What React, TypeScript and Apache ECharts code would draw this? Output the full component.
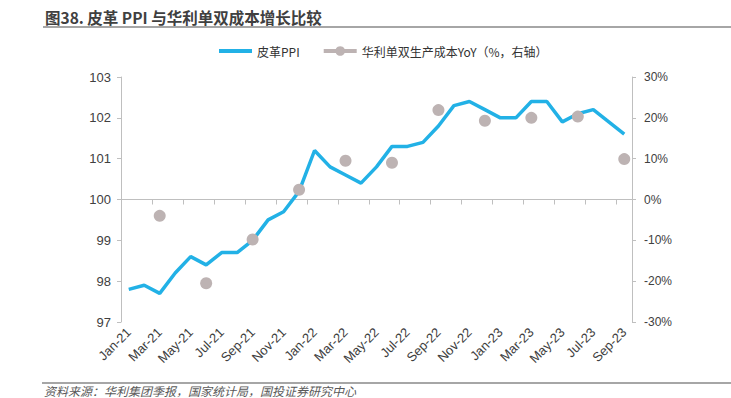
import React, { useEffect, useRef } from "react";
import * as echarts from "echarts";

const months = [
  "Jan-21", "Feb-21", "Mar-21", "Apr-21", "May-21", "Jun-21", "Jul-21", "Aug-21", "Sep-21", "Oct-21", "Nov-21", "Dec-21",
  "Jan-22", "Feb-22", "Mar-22", "Apr-22", "May-22", "Jun-22", "Jul-22", "Aug-22", "Sep-22", "Oct-22", "Nov-22", "Dec-22",
  "Jan-23", "Feb-23", "Mar-23", "Apr-23", "May-23", "Jun-23", "Jul-23", "Aug-23", "Sep-23",
];

const leatherPPI = [
  97.8, 97.9, 97.7, 98.2, 98.6, 98.4, 98.7, 98.7, 99.0, 99.5, 99.7, 100.2,
  101.2, 100.8, 100.6, 100.4, 100.8, 101.3, 101.3, 101.4, 101.8, 102.3, 102.4, 102.2,
  102.0, 102.0, 102.4, 102.4, 101.9, 102.1, 102.2, 101.9, 101.6,
];

const costMonths = ["Mar-21", "Jun-21", "Sep-21", "Dec-21", "Mar-22", "Jun-22", "Sep-22", "Dec-22", "Mar-23", "Jun-23", "Sep-23"];
const costYoY = [-4.0, -20.5, -9.8, 2.4, 9.5, 9.0, 21.9, 19.3, 20.0, 20.3, 9.9];

const leftTicks = { min: 97, max: 103, interval: 1 };
const rightTicks = { min: -30, max: 30, interval: 10 };

const titleText = "图38. 皮革 PPI 与华利单双成本增长比较";
const sourceText = "资料来源：华利集团季报，国家统计局，国投证券研究中心";
const seriesNames = ["皮革PPI", "华利单双生产成本YoY（%，右轴）"];

export default function App() {
  const ref = useRef<HTMLDivElement>(null);
  useEffect(() => {
    if (!ref.current) return;
    const chart = echarts.init(ref.current, undefined, { renderer: "svg" });
    const costData = months.map((m) => {
      const i = costMonths.indexOf(m);
      return i >= 0 ? costYoY[i] : null;
    });
    const blue = "#22b1e6";
    const grey = "#bdb3b3";
    const axisColor = "#bfbfbf";
    const labelColor = "#404040";
    const numFont = "Liberation Sans, Arial, sans-serif";
    chart.setOption({
      animation: false,
      backgroundColor: "#ffffff",
      title: {
        text: titleText,
        left: 40,
        top: 4,
        textStyle: {
          fontSize: 15.5,
          fontWeight: "bold",
          color: "#404040",
          fontFamily: "Noto Sans CJK SC, sans-serif",
        },
      },
      legend: {
        left: 212,
        top: 40,
        itemWidth: 33,
        itemHeight: 12,
        itemGap: 22,
        textStyle: { fontSize: 12, color: "#333333", fontFamily: "Noto Sans CJK SC, sans-serif" },
        data: [
          { name: seriesNames[0], itemStyle: { opacity: 0 }, lineStyle: { width: 4, color: blue } },
          { name: seriesNames[1], lineStyle: { width: 4, color: grey } },
        ],
      },
      grid: { left: 121, right: 99, top: 77, bottom: 76, containLabel: false },
      xAxis: {
        type: "category",
        data: months,
        boundaryGap: true,
        axisLine: { lineStyle: { color: axisColor, width: 1 } },
        axisTick: { show: true, interval: 1, length: 5, lineStyle: { color: axisColor } },
        axisLabel: {
          interval: 1,
          rotate: 45,
          margin: 8,
          fontSize: 13,
          color: "#404040",
          fontFamily: numFont,
        },
        splitLine: { show: false },
      },
      yAxis: [
        {
          type: "value",
          min: leftTicks.min,
          max: leftTicks.max,
          interval: leftTicks.interval,
          position: "left",
          axisLine: { show: true, lineStyle: { color: axisColor } },
          axisTick: { show: true, length: 4, lineStyle: { color: axisColor } },
          axisLabel: { fontSize: 13, color: labelColor, margin: 10, fontFamily: numFont },
          splitLine: { show: false },
        },
        {
          type: "value",
          min: rightTicks.min,
          max: rightTicks.max,
          interval: rightTicks.interval,
          position: "right",
          axisLine: { show: true, lineStyle: { color: axisColor } },
          axisTick: { show: true, length: 4, lineStyle: { color: axisColor } },
          axisLabel: { fontSize: 12, color: labelColor, margin: 12, fontFamily: numFont, formatter: "{value}%" },
          splitLine: { show: false },
        },
      ],
      series: [
        {
          name: seriesNames[0],
          type: "line",
          yAxisIndex: 0,
          data: leatherPPI,
          symbol: "none",
          lineStyle: { color: blue, width: 3.5 },
          itemStyle: { color: blue },
          z: 2,
        },
        {
          name: seriesNames[1],
          type: "line",
          yAxisIndex: 1,
          data: costData,
          symbol: "circle",
          symbolSize: 12,
          showSymbol: true,
          showAllSymbol: true,
          connectNulls: false,
          lineStyle: { color: grey, width: 4 },
          itemStyle: { color: grey },
          z: 3,
        },
      ],
      graphic: [
        {
          type: "line",
          shape: { x1: 43, y1: 27, x2: 731, y2: 27 },
          style: { stroke: "#a6a6a6", lineWidth: 2 },
        },
        {
          type: "line",
          shape: { x1: 42, y1: 383, x2: 731, y2: 383 },
          style: { stroke: "#a6a6a6", lineWidth: 2 },
        },
        {
          type: "text",
          x: 44,
          y: 390,
          style: {
            text: sourceText,
            fontSize: 12,
            fontStyle: "italic",
            fill: "#595959",
            verticalAlign: "middle",
            fontFamily: "Noto Sans CJK SC, sans-serif",
          },
        },
      ],
    });
    return () => chart.dispose();
  }, []);
  return (
    <div
      ref={ref}
      style={{ position: "fixed", left: 0, top: 0, width: 731, height: 398, background: "#fff" }}
    />
  );
}
